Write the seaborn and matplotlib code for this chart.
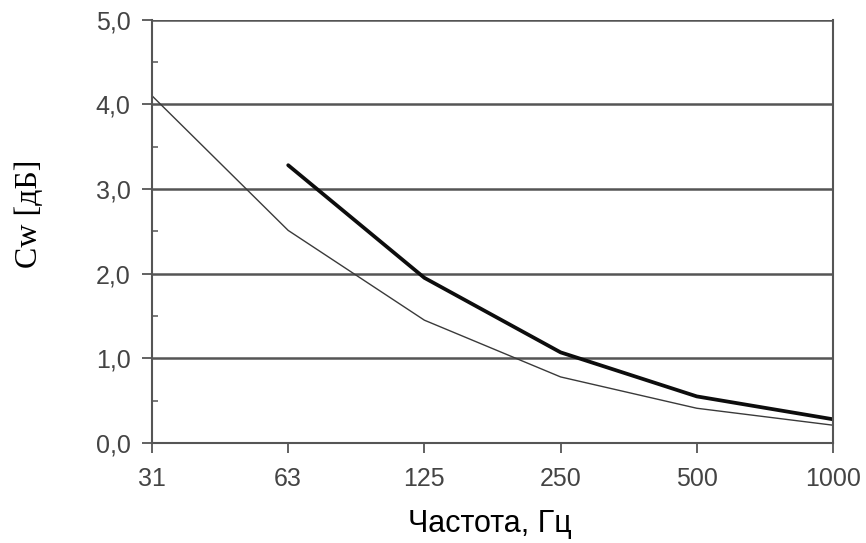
import matplotlib.pyplot as plt
import pandas as pd
import seaborn as sns
from matplotlib.ticker import FixedLocator, FuncFormatter, MultipleLocator

# frequency bands (Hz) and the two Cw curves
freqs = ["31", "63", "125", "250", "500", "1000"]
cw_thin = [4.10, 2.51, 1.45, 0.78, 0.41, 0.21]
thick_freqs = ["63", "125", "250", "500", "1000"]
cw_thick = [3.28, 1.95, 1.07, 0.55, 0.28]

y_ticks = [0, 1, 2, 3, 4, 5]


def main() -> None:
    sns.set_theme(style="white")
    plt.rcParams["font.family"] = ["Liberation Sans", "DejaVu Sans"]

    df = pd.concat(
        [
            pd.DataFrame({"freq": freqs, "cw": cw_thin, "curve": "thin"}),
            pd.DataFrame({"freq": thick_freqs, "cw": cw_thick, "curve": "thick"}),
        ],
        ignore_index=True,
    )

    fig = plt.figure(figsize=(8.66, 5.43), dpi=100)
    ax = fig.add_axes([0.1755, 0.1842, 0.7864, 0.7798])

    sns.lineplot(
        data=df,
        x="freq",
        y="cw",
        hue="curve",
        size="curve",
        sizes={"thin": 1.0, "thick": 2.7},
        palette={"thin": "#3a3a3a", "thick": "#0d0d0d"},
        sort=False,
        legend=False,
        ax=ax,
    )

    ax.set_xlim(0, len(freqs) - 1)
    ax.set_ylim(0, 5)
    ax.yaxis.set_major_locator(FixedLocator(y_ticks))
    ax.yaxis.set_minor_locator(MultipleLocator(0.5))
    ax.yaxis.set_major_formatter(
        FuncFormatter(lambda v, _: f"{v:.1f}".replace(".", ","))
    )

    for y in y_ticks[1:]:
        ax.axhline(y, color="#555555", lw=1.8, zorder=1)

    for side in ["left", "bottom", "right"]:
        ax.spines[side].set_color("#555555")
        ax.spines[side].set_linewidth(1.5)
    ax.spines["top"].set_visible(False)

    ax.tick_params(
        axis="both", which="major", direction="out", length=7.5,
        width=1.3, color="#555555", labelcolor="#444444", labelsize=18,
    )
    ax.tick_params(axis="y", which="major", left=True, pad=8)
    ax.tick_params(axis="x", which="major", bottom=True, pad=10)
    ax.tick_params(
        axis="y", which="minor", direction="in", length=4, width=1.1,
        color="#555555", left=True,
    )

    ax.set_xlabel("")
    ax.set_ylabel("")
    fig.text(
        490 / 866, 1 - 532 / 543, "Частота, Гц",
        fontsize=22, color="black", ha="center", va="baseline",
    )
    fig.text(
        30 / 866, 1 - 214 / 543, "Cw [дБ]",
        fontsize=23, family=["Liberation Serif", "DejaVu Serif"],
        color="black", rotation=90, ha="center", va="center",
    )

    fig.savefig("out.png", dpi=100)
    plt.close(fig)


if __name__ == "__main__":
    main()
